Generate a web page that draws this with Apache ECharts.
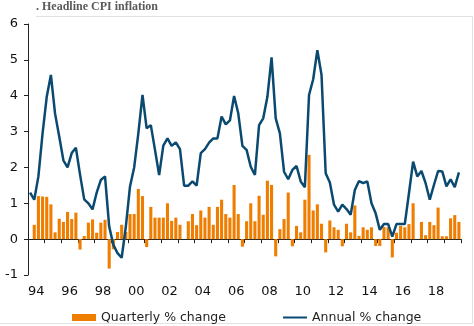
<!DOCTYPE html>
<html>
<head>
<meta charset="utf-8">
<script src="https://cdn.jsdelivr.net/npm/echarts@6/dist/echarts.min.js"></script>
<style>
html,body{margin:0;padding:0;background:#fff;}
#chart{width:474px;height:326px;}
</style>
</head>
<body>
<div id="chart"></div>
<script>
// Quarterly categories 1994Q1 .. 2019Q4
const categories = [];
for (let y = 1994; y <= 2019; y++) {
  for (let q = 1; q <= 4; q++) categories.push(y + 'Q' + q);
}

const quarterlyChange = [
  null, 0.40, 1.20, 1.19, 1.18, 0.97, 0.19, 0.57,
  0.48, 0.76, 0.56, 0.74, -0.29, 0.09, 0.46, 0.55,
  0.18, 0.46, 0.54, -0.82, -0.28, 0.20, 0.40, 0.20,
  0.70, 0.70, 1.40, 1.20, -0.22, 0.90, 0.60, 0.60,
  0.60, 1.00, 0.51, 0.60, 0.40, 0, 0.50, 0.70,
  0.39, 0.80, 0.60, 0.90, 0.40, 0.90, 1.10, 0.70,
  0.60, 1.51, 0.70, -0.21, 0.50, 1.00, 0.50, 1.21,
  0.68, 1.63, 1.51, -0.48, 0.28, 0.56, 1.30, -0.20,
  0.37, 0.19, 1.10, 2.35, 0.80, 0.97, 0.43, -0.37,
  0.52, 0.33, 0.26, -0.20, 0.43, 0.19, 0.94, 0.09,
  0.33, 0.26, 0.33, -0.19, -0.19, 0.34, 0.33, -0.51,
  0.18, 0.37, 0.33, 0.42, 1.00, 0, 0.48, 0.11,
  0.48, 0.39, 0.88, 0.08, 0.08, 0.58, 0.67, 0.48
];

const annualChange = [
  1.30, 1.10, 1.75, 2.95, 3.97, 4.58, 3.50, 2.86,
  2.20, 2.00, 2.40, 2.55, 1.80, 1.11, 1.00, 0.83,
  1.30, 1.65, 1.75, 0.35, -0.16, -0.39, -0.52, 0.35,
  1.47, 2.00, 2.95, 4.02, 3.09, 3.18, 2.49, 1.79,
  2.61, 2.81, 2.60, 2.70, 2.51, 1.49, 1.49, 1.61,
  1.49, 2.40, 2.51, 2.69, 2.81, 2.81, 3.42, 3.20,
  3.31, 3.99, 3.51, 2.60, 2.49, 2.02, 1.79, 3.18,
  3.37, 3.97, 5.07, 3.37, 2.95, 1.88, 1.67, 1.93,
  2.04, 1.61, 1.45, 4.02, 4.46, 5.27, 4.58, 1.84,
  1.58, 0.96, 0.77, 0.96, 0.84, 0.68, 1.37, 1.62,
  1.56, 1.61, 1.00, 0.72, 0.26, 0.42, 0.42, 0.07,
  0.42, 0.42, 0.42, 1.28, 2.16, 1.75, 1.90, 1.56,
  1.10, 1.51, 1.90, 1.89, 1.47, 1.67, 1.45, 1.86
];

const yearLabels = ['94','96','98','00','02','04','06','08','10','12','14','16','18'];
const yTicks = { min: -1, max: 6, interval: 1 };

const chart = echarts.init(document.getElementById('chart'), null, { renderer: 'canvas' });
const font = 'DejaVu Sans';

chart.setOption({
  animation: false,
  backgroundColor: '#fff',
  title: {
    text: '. Headline CPI inflation',
    left: 36, top: 1, padding: 0,
    textStyle: { fontFamily: 'Liberation Serif', fontWeight: 'bold', fontSize: 12, color: '#5a5a5a' }
  },
  graphic: [
    { type: 'line', shape: { x1: 36, y1: 16.5, x2: 472.5, y2: 16.5 }, style: { stroke: '#e2e2e2', lineWidth: 1 }, silent: true },
    { type: 'line', shape: { x1: 472.5, y1: 16.5, x2: 472.5, y2: 323.5 }, style: { stroke: '#e2e2e2', lineWidth: 1 }, silent: true },
    { type: 'line', shape: { x1: 0, y1: 323.5, x2: 472.5, y2: 323.5 }, style: { stroke: '#e2e2e2', lineWidth: 1 }, silent: true }
  ],
  legend: {
    left: 67, top: 306, itemWidth: 24, itemHeight: 7, itemGap: 56,
    textStyle: { fontFamily: font, fontSize: 12.5, color: '#222' },
    data: [
      { name: 'Quarterly % change', icon: 'rect' },
      { name: 'Annual % change', itemStyle: { opacity: 0 } }
    ]
  },
  grid: { left: 28, right: 13, top: 24, bottom: 51, containLabel: false },
  xAxis: [
    {
      type: 'category', data: categories, boundaryGap: true,
      axisLine: { onZero: true, lineStyle: { color: '#222', width: 1 } },
      axisTick: { show: true, interval: 3, length: 4, lineStyle: { color: '#222' } },
      axisLabel: { show: false },
      splitLine: { show: false }
    },
    {
      type: 'value', min: 0, max: 104, interval: 2, position: 'bottom',
      axisLine: { show: false, onZero: false },
      axisTick: { show: false },
      splitLine: { show: false },
      axisLabel: {
        margin: 10, fontFamily: font, fontSize: 13, color: '#111',
        formatter: function (v) {
          const k = (v - 2) / 8;
          return (Number.isInteger(k) && k >= 0 && k < yearLabels.length) ? yearLabels[k] : '';
        }
      }
    }
  ],
  yAxis: {
    type: 'value', min: yTicks.min, max: yTicks.max, interval: yTicks.interval,
    axisLine: { show: true, lineStyle: { color: '#222', width: 1 } },
    axisTick: { show: true, length: 4, lineStyle: { color: '#222' } },
    axisLabel: { margin: 10, fontFamily: font, fontSize: 13, color: '#111' },
    splitLine: { show: false }
  },
  series: [
    {
      name: 'Quarterly % change', type: 'bar', xAxisIndex: 0, data: quarterlyChange,
      barWidth: '74%', itemStyle: { color: '#EF7D00' }
    },
    {
      name: 'Annual % change', type: 'line', xAxisIndex: 0, data: annualChange,
      symbol: 'none', smooth: false,
      lineStyle: { color: '#0B4A70', width: 2.5 }, itemStyle: { color: '#0B4A70' }
    }
  ]
});
</script>
</body>
</html>
